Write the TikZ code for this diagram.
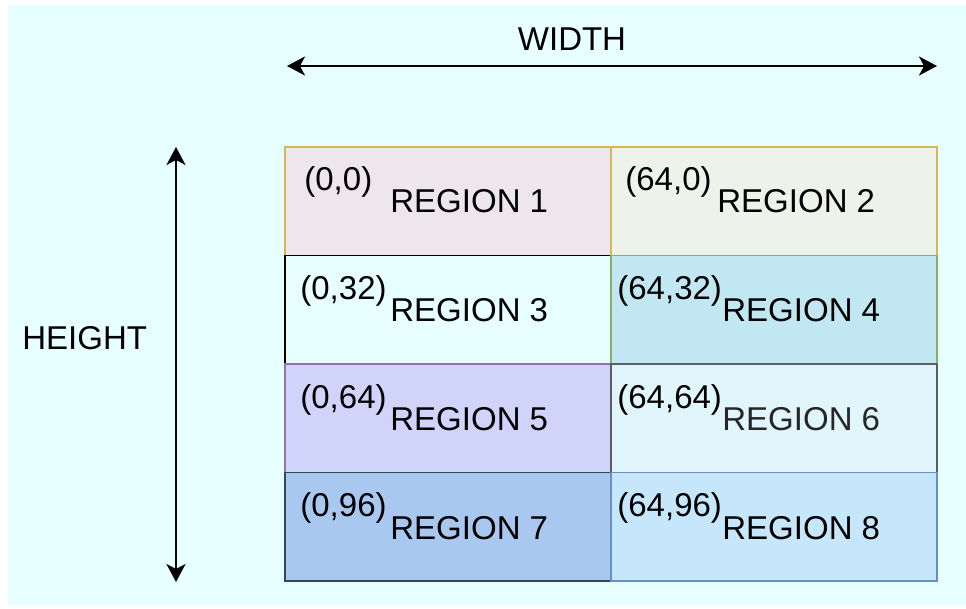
\documentclass[tikz,border=0pt]{standalone}
\usepackage{fontspec}
\setmainfont{Liberation Sans}
\usetikzlibrary{arrows.meta}

\definecolor{bgcyan}{HTML}{E8FFFF}
\definecolor{fillA}{HTML}{EDE6EA}
\definecolor{fillB}{HTML}{EDF3EA}
\definecolor{fillD}{HTML}{C1E8F2}
\definecolor{fillE}{HTML}{D0D4FB}
\definecolor{fillF}{HTML}{E0F5FC}
\definecolor{fillG}{HTML}{A9C8F0}
\definecolor{fillH}{HTML}{C6E7FB}
\definecolor{lineY}{HTML}{D6B656}
\definecolor{lineG}{HTML}{82B366}
\definecolor{lineP}{HTML}{9673A6}
\definecolor{lineK}{HTML}{5A5F66}
\definecolor{lineS}{HTML}{34465A}
\definecolor{lineB}{HTML}{6C8EBF}

\begin{document}
\begin{tikzpicture}
  [x=0.5pt,y=-0.5pt,font=\fontsize{16.5}{18}\selectfont,
   every node/.style={inner sep=0pt},
   cell/.style={draw,line width=0.9pt,minimum width=163pt,minimum height=54.25pt},
   dim/.style={line width=1.1pt,{Stealth[length=9pt,width=9.5pt,inset=2.5pt]}-{Stealth[length=9pt,width=9.5pt,inset=2.5pt]}}] % all positions are given in pixels of the sketch

  \useasboundingbox (0,0) rectangle (966,609);
  \fill[bgcyan] (8,5) rectangle (966,605);

  % left column of the frame
  \node[cell,fill=fillA,draw=lineY] (r1) at (448,201.25) {};
  \node[cell,fill=bgcyan,draw=black] (r3) at (448,309.75) {};
  \node[cell,fill=fillE,draw=lineP] (r5) at (448,418.25) {};
  \node[cell,fill=fillG,draw=lineS] (r7) at (448,526.75) {};
  % right column of the frame
  \node[cell,fill=fillB,draw=lineY] (r2) at (774,201.25) {};
  \node[cell,fill=fillD,draw=lineG] (r4) at (774,309.75) {};
  \node[cell,fill=fillF,draw=lineK] (r6) at (774,418.25) {};
  \node[cell,fill=fillH,draw=lineB] (r8) at (774,526.75) {};

  % start coordinates of each region
  \node[anchor=base west] (p1) at (304,191) {(0,0)};
  \node[anchor=base west] (p3) at (300,300) {(0,32)};
  \node[anchor=base west] (p5) at (300,409) {(0,64)};
  \node[anchor=base west] (p7) at (300,517) {(0,96)};
  \node[anchor=base west] (p2) at (625,191) {(64,0)};
  \node[anchor=base west] (p4) at (617,300) {(64,32)};
  \node[anchor=base west] (p6) at (617,409) {(64,64)};
  \node[anchor=base west] (p8) at (617,517) {(64,96)};

  \node[anchor=base west] (n1) at (390,213) {REGION 1};
  \node[anchor=base west] (n3) at (390,322) {REGION 3};
  \node[anchor=base west] (n5) at (390,431) {REGION 5};
  \node[anchor=base west] (n7) at (390,540) {REGION 7};
  \node[anchor=base west] (n2) at (717,213) {REGION 2};
  \node[anchor=base west] (n4) at (722,322) {REGION 4};
  \node[anchor=base west,text=black!85] (n6) at (722,431) {REGION 6};
  \node[anchor=base west] (n8) at (722,540) {REGION 8};

  % dimension arrows
  \coordinate (wl) at (287,66);
  \coordinate (wr) at (937,66);
  \coordinate (ht) at (176,147);
  \coordinate (hb) at (176,582);
  \draw[dim] (wl) -- (wr);
  \draw[dim] (ht) -- (hb);
  \node[anchor=base] (wd) at (572,51) {WIDTH};
  \node[anchor=base west] (hg) at (22,350) {HEIGHT};

\end{tikzpicture}
\end{document}
